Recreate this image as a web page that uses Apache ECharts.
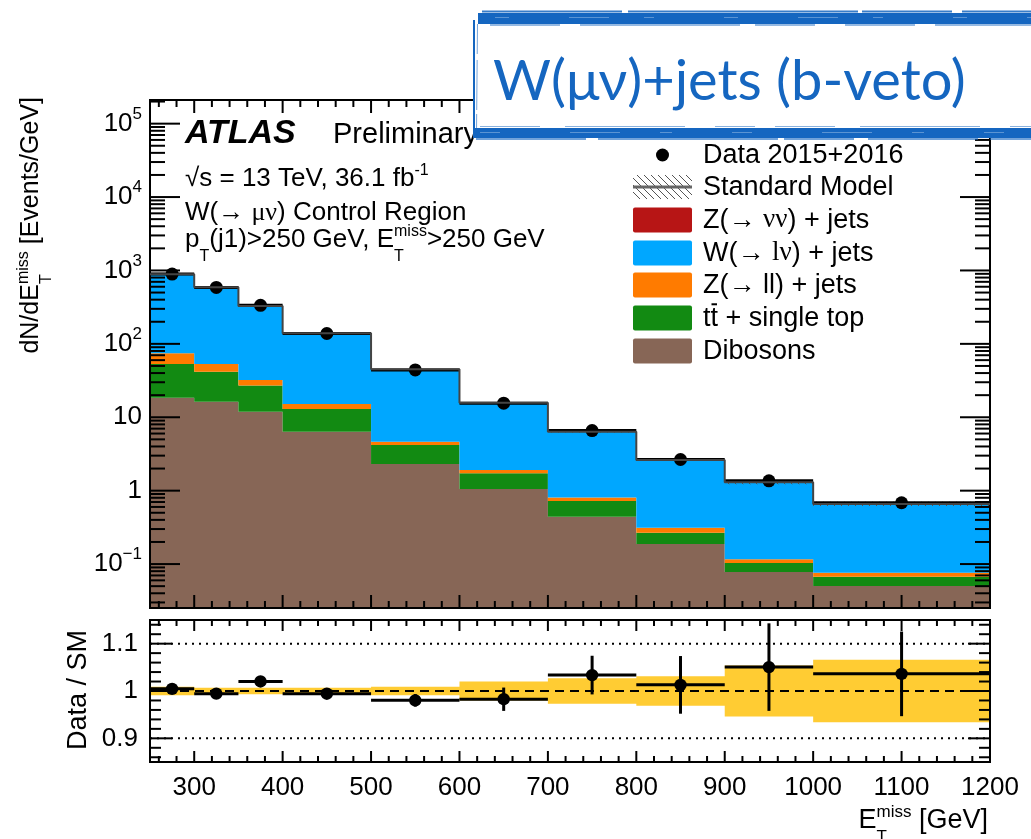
<!DOCTYPE html>
<html>
<head>
<meta charset="utf-8">
<script src="https://cdn.jsdelivr.net/npm/echarts@6/dist/echarts.min.js"></script>
<style>
  html, body { margin: 0; padding: 0; background: #fff; }
  #chart { width: 1031px; height: 839px; }
</style>
</head>
<body>
<div id="chart"></div>
<script>
// ---- binning (GeV) -------------------------------------------------------
const binEdges = [250, 300, 350, 400, 500, 600, 700, 800, 900, 1000, 1200];

// ---- background yields, events / GeV (stacked bottom to top) -------------
const dibosons = [18.5, 16.3, 11.9, 6.36, 2.31, 1.05, 0.442, 0.188, 0.078, 0.0503];
const ttbar    = [34.5, 25.5, 15.1, 6.64, 1.89, 0.68, 0.283, 0.080, 0.025, 0.017];
const zll      = [21.5, 11.2, 5.2, 2.2, 0.45, 0.18, 0.085, 0.045, 0.013, 0.009];
const wlnu     = [813, 537, 296, 124, 40.4, 13.9, 5.55, 2.31, 1.18, 0.583];
const znunu    = [0.5, 0.3, 0.2, 0.1, 0.04, 0.015, 0.006, 0.003, 0.0015, 0.0008];

// relative uncertainty on the total SM prediction
const smRelUnc = [0.009, 0.007, 0.007, 0.007, 0.009, 0.02, 0.027, 0.031, 0.054, 0.066];

// ---- data, events / GeV ---------------------------------------------------
const dataVals = [892, 587, 335, 138.5, 44.2, 15.55, 6.58, 2.66, 1.363, 0.684];
const dataErrs = [4.4, 3.4, 2.6, 1.2, 0.6, 0.39, 0.26, 0.16, 0.12, 0.059];

// ---- axis labels ------------------------------------------------------------
const xTickLabels = [300, 400, 500, 600, 700, 800, 900, 1000, 1100, 1200];
const yDecadeExps = [-1, 0, 1, 2, 3, 4, 5];
const ratioTickLabels = [0.9, 1, 1.1];
const ratioRefLines = [0.9, 1.0, 1.1];

// ---- legend ---------------------------------------------------------------
const processColors = {
  dibosons: '#876656', ttbar: '#128A12', zll: '#FF7B00', wlnu: '#00A7FF', znunu: '#B71515'
};

// ---- layout constants -----------------------------------------------------
const X_MIN = 250, X_MAX = 1200;
const Y_MIN = 0.0252, Y_MAX = 2.1e5;
const R_MIN = 0.85, R_MAX = 1.15;
const SANS = '"Liberation Sans", Arial, Helvetica, sans-serif';
const SERIF = '"Liberation Serif", "DejaVu Serif", serif';
const BAND = '#FFCC33';
const BLUE = '#1566C0';

const nBins = binEdges.length - 1;

// stacked layers: per-bin [x0, x1, lo, hi]
const layers = [
  { vals: dibosons, color: processColors.dibosons },
  { vals: ttbar, color: processColors.ttbar },
  { vals: zll, color: processColors.zll },
  { vals: wlnu, color: processColors.wlnu },
  { vals: znunu, color: processColors.znunu }
];
const cum = new Array(nBins).fill(0);
layers.forEach(layer => {
  layer.items = [];
  for (let i = 0; i < nBins; i++) {
    const lo = cum[i], hi = cum[i] + layer.vals[i];
    layer.items.push([binEdges[i], binEdges[i + 1], lo > 0 ? lo : Y_MIN, hi]);
    cum[i] = hi;
  }
});
const smTotal = cum.slice();

// ---- renderers ------------------------------------------------------------
// one filled step polygon per layer, built from the per-bin items
function stepPolygonRenderer(items, fill) {
  return function (params, api) {
    if (params.dataIndex !== 0) return null;
    const pts = [];
    items.forEach(it => {
      pts.push(api.coord([it[0], it[3]]), api.coord([it[1], it[3]]));
    });
    for (let i = items.length - 1; i >= 0; i--) {
      const it = items[i];
      pts.push(api.coord([it[1], it[2]]), api.coord([it[0], it[2]]));
    }
    return { type: 'polygon', shape: { points: pts }, style: { fill: fill, stroke: null } };
  };
}

// per-bin rectangles (used for the hatched uncertainty band)
function rectRenderer(fill) {
  return function (params, api) {
    const p0 = api.coord([api.value(0), api.value(3)]);
    const p1 = api.coord([api.value(1), api.value(2)]);
    return {
      type: 'rect',
      shape: { x: p0[0], y: p0[1], width: p1[0] - p0[0], height: p1[1] - p0[1] },
      style: { fill: fill, stroke: null }
    };
  };
}

function hatchCanvas() {
  const c = document.createElement('canvas');
  c.width = 7; c.height = 7;
  const g = c.getContext('2d');
  g.strokeStyle = '#555';
  g.lineWidth = 1;
  g.beginPath();
  g.moveTo(-1, -1); g.lineTo(8, 8);
  g.moveTo(-4.5, 2.5); g.lineTo(4.5, 11.5);
  g.moveTo(2.5, -4.5); g.lineTo(11.5, 4.5);
  g.stroke();
  return c;
}
const hatchFill = { image: hatchCanvas(), repeat: 'repeat' };

function pointRenderer(r) {
  return function (params, api) {
    const x0 = api.value(0), x1 = api.value(1), v = api.value(2), e = api.value(3);
    const xc = (x0 + x1) / 2;
    const pL = api.coord([x0, v]), pR = api.coord([x1, v]), pC = api.coord([xc, v]);
    const pT = api.coord([xc, v + e]), pB = api.coord([xc, Math.max(v - e, 1e-9)]);
    return {
      type: 'group',
      children: [
        { type: 'line', shape: { x1: pL[0], y1: pL[1], x2: pR[0], y2: pR[1] }, style: { stroke: '#000', lineWidth: 3 } },
        { type: 'line', shape: { x1: pT[0], y1: pT[1], x2: pB[0], y2: pB[1] }, style: { stroke: '#000', lineWidth: 3 } },
        { type: 'circle', shape: { cx: pC[0], cy: pC[1], r: r }, style: { fill: '#000', stroke: null } }
      ]
    };
  };
}

// axis ticks drawn on all four sides plus the frame, ROOT style
function tickRenderer(yLo, yHi) {
  return function (params, api) {
    const x = api.value(0), y = api.value(1), len = api.value(2), o = api.value(3);
    const st = { stroke: '#000', lineWidth: 2 };
    if (o === 4) {
      const a = api.coord([X_MIN, yHi]), b = api.coord([X_MAX, yLo]);
      return { type: 'rect', shape: { x: a[0], y: a[1], width: b[0] - a[0], height: b[1] - a[1] },
               style: { fill: 'none', stroke: '#000', lineWidth: 2 } };
    }
    const p = api.coord([x, y]);
    let q;
    if (o === 0) q = [p[0] + len, p[1]];
    else if (o === 1) q = [p[0] - len, p[1]];
    else if (o === 2) q = [p[0], p[1] - len];
    else q = [p[0], p[1] + len];
    return { type: 'line', shape: { x1: p[0], y1: p[1], x2: q[0], y2: q[1] }, style: st };
  };
}

function mainTicks() {
  const items = [];
  for (let k = -2; k <= 5; k++) {
    for (let m = 1; m <= 9; m++) {
      const v = m * Math.pow(10, k);
      if (v < Y_MIN || v > Y_MAX) continue;
      const len = m === 1 ? 30 : 15;
      items.push([X_MIN, v, len, 0], [X_MAX, v, len, 1]);
    }
  }
  for (let x = 260; x < X_MAX; x += 20) {
    const len = x % 100 === 0 ? 13 : 7;
    items.push([x, Y_MIN, len, 2], [x, Y_MAX, len, 3]);
  }
  items.push([X_MIN, Y_MAX, 0, 4]);
  return items;
}

function ratioTicks() {
  const items = [];
  for (let i = 43; i <= 57; i++) {
    const v = i * 0.02;
    const len = i % 5 === 0 ? 22 : 11;
    items.push([X_MIN, v, len, 0], [X_MAX, v, len, 1]);
  }
  for (let x = 260; x < X_MAX; x += 20) {
    const len = x % 100 === 0 ? 11 : 6;
    items.push([x, R_MIN, len, 2], [x, R_MAX, len, 3]);
  }
  items.push([X_MIN, R_MAX, 0, 4]);
  return items;
}

// ---- text with sub/superscripts -------------------------------------------
const mctx = document.createElement('canvas').getContext('2d');
function runFont(r) {
  return (r.fontStyle || 'normal') + ' ' + (r.fontWeight || 'normal') + ' ' + r.fontSize + 'px ' + (r.fontFamily || SANS);
}
function runWidth(r) { mctx.font = runFont(r); return mctx.measureText(r.text).width; }
function textEl(r, x, baseY, color, z) {
  return {
    type: 'text', x: x, y: baseY - 0.3465 * r.fontSize, z: z,
    style: {
      text: r.text, fontSize: r.fontSize, fontFamily: r.fontFamily || SANS,
      fontWeight: r.fontWeight || 'normal', fontStyle: r.fontStyle || 'normal',
      fill: color, align: 'left', verticalAlign: 'middle'
    }
  };
}
function mathText(runs, size, opt) {
  const color = opt.color || '#000', z = opt.z || 10;
  const kids = [];
  let x = 0;
  runs.forEach(r => {
    if (typeof r === 'string') r = { t: r };
    if (r.sup !== undefined || r.sub !== undefined) {
      const s = Math.round(size * 0.62);
      let w = 0;
      if (r.sup) { const q = { text: r.sup, fontSize: s }; kids.push(textEl(q, x, -size * 0.45, color, z)); w = Math.max(w, runWidth(q)); }
      if (r.sub) { const q = { text: r.sub, fontSize: s }; kids.push(textEl(q, x, size * 0.5, color, z)); w = Math.max(w, runWidth(q)); }
      x += w;
      return;
    }
    const q = { text: r.t, fontSize: size, fontFamily: r.family, fontWeight: r.weight, fontStyle: r.style };
    kids.push(textEl(q, x, 0, color, z));
    const w = runWidth(q);
    if (r.bar) {
      kids.push({ type: 'line', z: z, shape: { x1: x + 1, y1: -size * 0.86, x2: x + w - 1, y2: -size * 0.86 },
                  style: { stroke: color, lineWidth: 2 } });
    }
    x += w;
  });
  const off = opt.align === 'right' ? -x : opt.align === 'center' ? -x / 2 : 0;
  kids.forEach(k => {
    if (k.type === 'text') k.x += off;
    else { k.shape.x1 += off; k.shape.x2 += off; }
  });
  return { type: 'group', x: opt.x, y: opt.y, rotation: opt.rotation || 0, z: z, children: kids };
}

// ---- legend -----------------------------------------------------------------
const legendX = 633, legendW = 59, legendH = 25, legendTextX = 703;
const legendRows = [155, 187, 220, 253, 285, 318, 351];
const legendGraphics = [];
legendGraphics.push({ type: 'circle', z: 10, shape: { cx: legendX + legendW / 2, cy: legendRows[0], r: 6.5 }, style: { fill: '#000' } });
legendGraphics.push({ type: 'rect', z: 10, shape: { x: legendX, y: legendRows[1] - 12, width: legendW, height: 24 }, style: { fill: hatchFill } });
legendGraphics.push({ type: 'line', z: 10, shape: { x1: legendX, y1: legendRows[1], x2: legendX + legendW, y2: legendRows[1] }, style: { stroke: '#666', lineWidth: 3 } });
[processColors.znunu, processColors.wlnu, processColors.zll, processColors.ttbar, processColors.dibosons].forEach((c, i) => {
  legendGraphics.push({ type: 'rect', z: 10, shape: { x: legendX, y: legendRows[i + 2] - legendH / 2, width: legendW, height: legendH, r: 2 }, style: { fill: c } });
});
const legendTexts = [
  ['Data 2015+2016'],
  ['Standard Model'],
  ['Z(→ ', { t: 'νν', family: SERIF }, ') + jets'],
  ['W(→ ', { t: 'lν', family: SERIF }, ') + jets'],
  ['Z(→ ll) + jets'],
  [{ t: 't' }, { t: 't', bar: true }, ' + single top'],
  ['Dibosons']
];
legendTexts.forEach((runs, i) => {
  legendGraphics.push(mathText(runs, 27, { x: legendTextX, y: legendRows[i] + 9.5 }));
});

// ---- banner -------------------------------------------------------------------
const bannerText = 'W(μν)+jets (b-veto)';
const bannerFamily = 'Lato, "Open Sans", sans-serif';
const bannerSize = Math.round(64 * 475 / runWidth({ text: bannerText, fontSize: 64, fontFamily: bannerFamily }));
const banner = [
  { type: 'rect', z: 50, shape: { x: 474, y: 15, width: 600, height: 120 }, style: { fill: '#fff' } },
  // top brush stroke
  { type: 'rect', z: 51, shape: { x: 478, y: 13, width: 600, height: 11 }, style: { fill: BLUE } },
  { type: 'line', z: 51, shape: { x1: 482, y1: 11.5, x2: 1040, y2: 11.5 }, style: { stroke: BLUE, lineWidth: 2, opacity: 0.85, lineDash: [140, 6, 230, 4, 90, 10] } },
  { type: 'line', z: 51, shape: { x1: 490, y1: 25, x2: 1040, y2: 25 }, style: { stroke: BLUE, lineWidth: 1.5, opacity: 0.6, lineDash: [70, 20, 160, 15, 60, 30] } },
  { type: 'line', z: 52, shape: { x1: 495, y1: 17.5, x2: 1040, y2: 17.5 }, style: { stroke: '#fff', lineWidth: 1, opacity: 0.3, lineDash: [14, 60, 40, 35, 10, 70] } },
  // bottom brush stroke
  { type: 'rect', z: 51, shape: { x: 473, y: 128, width: 600, height: 10 }, style: { fill: BLUE } },
  { type: 'line', z: 51, shape: { x1: 476, y1: 139, x2: 1040, y2: 139 }, style: { stroke: BLUE, lineWidth: 1.5, opacity: 0.8, lineDash: [110, 12, 180, 6, 70, 14] } },
  { type: 'line', z: 51, shape: { x1: 480, y1: 126.5, x2: 1040, y2: 126.5 }, style: { stroke: BLUE, lineWidth: 1, opacity: 0.5, lineDash: [60, 25, 120, 30, 40, 20] } },
  { type: 'line', z: 52, shape: { x1: 480, y1: 132.5, x2: 1040, y2: 132.5 }, style: { stroke: '#fff', lineWidth: 1, opacity: 0.3, lineDash: [20, 70, 50, 40, 12, 60] } },
  // left edge
  { type: 'line', z: 51, shape: { x1: 474, y1: 20, x2: 474, y2: 136 }, style: { stroke: BLUE, lineWidth: 2 } },
  { type: 'line', z: 51, shape: { x1: 477.5, y1: 24, x2: 476.5, y2: 132 }, style: { stroke: BLUE, lineWidth: 1, opacity: 0.6, lineDash: [30, 6, 50, 4] } },
  {
    type: 'text', z: 53, x: 493, y: 103 - 0.38 * bannerSize,
    style: { text: bannerText, fontSize: bannerSize, fontFamily: bannerFamily, fill: BLUE, align: 'left', verticalAlign: 'middle' }
  }
];

// ---- titles and labels ----------------------------------------------------
const titles = [
  mathText(['dN/dE', { sup: 'miss', sub: 'T' }, ' [Events/GeV]'], 25, { x: 40, y: 97, align: 'right', rotation: Math.PI / 2 }),
  mathText(['Data / SM'], 27, { x: 88, y: 690, align: 'center', rotation: Math.PI / 2 }),
  mathText(['E', { sup: 'miss', sub: 'T' }, ' [GeV]'], 27, { x: 988, y: 830, align: 'right' }),
  mathText([{ t: 'ATLAS', weight: 'bold', style: 'italic' }], 34, { x: 185, y: 145 }),
  mathText(['Preliminary'], 29, { x: 333, y: 145 }),
  mathText(['√s = 13 TeV, 36.1 fb', { sup: '-1' }], 26, { x: 185, y: 188 }),
  mathText(['W(→ ', { t: 'μν', family: SERIF }, ') Control Region'], 26, { x: 185, y: 222 }),
  mathText(['p', { sub: 'T' }, '(j1)>250 GeV, E', { sup: 'miss', sub: 'T' }, '>250 GeV'], 26, { x: 185, y: 249 })
];

// ---- chart -----------------------------------------------------------------
const chart = echarts.init(document.getElementById('chart'), null, { renderer: 'canvas' });

const series = [];
layers.forEach(layer => {
  series.push({
    type: 'custom', xAxisIndex: 0, yAxisIndex: 0, silent: true,
    renderItem: stepPolygonRenderer(layer.items, layer.color), encode: { x: [0, 1], y: [2, 3] }, data: layer.items
  });
});
series.push({
  type: 'custom', xAxisIndex: 0, yAxisIndex: 0, silent: true,
  renderItem: rectRenderer(hatchFill), encode: { x: [0, 1], y: [2, 3] },
  data: smTotal.map((s, i) => [binEdges[i], binEdges[i + 1], s * (1 - smRelUnc[i]), s * (1 + smRelUnc[i])])
});
series.push({
  type: 'line', xAxisIndex: 0, yAxisIndex: 0, silent: true, step: 'end', symbol: 'none',
  lineStyle: { color: '#444', width: 2 },
  data: binEdges.map((x, i) => [x, smTotal[Math.min(i, nBins - 1)]])
});
series.push({
  type: 'custom', xAxisIndex: 0, yAxisIndex: 0, silent: true,
  renderItem: pointRenderer(6.5), encode: { x: [0, 1], y: 2 },
  data: dataVals.map((v, i) => [binEdges[i], binEdges[i + 1], v, dataErrs[i]])
});
series.push({
  type: 'custom', xAxisIndex: 0, yAxisIndex: 0, silent: true,
  renderItem: tickRenderer(Y_MIN, Y_MAX), encode: { x: 0, y: 1 }, data: mainTicks()
});

// ratio panel
const bandItems = smRelUnc.map((u, i) => [binEdges[i], binEdges[i + 1], 1 - u, 1 + u]);
series.push({
  type: 'custom', xAxisIndex: 1, yAxisIndex: 1, silent: true,
  renderItem: stepPolygonRenderer(bandItems, BAND), encode: { x: [0, 1], y: [2, 3] }, data: bandItems
});
series.push({
  type: 'custom', xAxisIndex: 1, yAxisIndex: 1, silent: true,
  encode: { x: 0, y: 1 },
  renderItem: function (params, api) {
    const y = api.value(1);
    const a = api.coord([X_MIN, y]), b = api.coord([X_MAX, y]);
    const dash = Math.abs(y - 1) < 1e-9 ? [9, 6] : [2, 5];
    return { type: 'line', shape: { x1: a[0], y1: a[1], x2: b[0], y2: b[1] }, style: { stroke: '#000', lineWidth: 2, lineDash: dash } };
  },
  data: ratioRefLines.map(y => [X_MIN, y])
});
series.push({
  type: 'custom', xAxisIndex: 1, yAxisIndex: 1, silent: true,
  renderItem: pointRenderer(6.2), encode: { x: [0, 1], y: 2 },
  data: dataVals.map((v, i) => [binEdges[i], binEdges[i + 1], v / smTotal[i], dataErrs[i] / smTotal[i]])
});
series.push({
  type: 'custom', xAxisIndex: 1, yAxisIndex: 1, silent: true,
  renderItem: tickRenderer(R_MIN, R_MAX), encode: { x: 0, y: 1 }, data: ratioTicks()
});

const hidden = { show: false };
const option = {
  animation: false,
  backgroundColor: '#fff',
  grid: [
    { left: 150, top: 100, width: 840, height: 508 },
    { left: 150, top: 620, width: 840, height: 142 }
  ],
  xAxis: [
    { gridIndex: 0, type: 'value', min: X_MIN, max: X_MAX, axisLine: hidden, axisTick: hidden, axisLabel: hidden, splitLine: hidden },
    {
      gridIndex: 1, type: 'value', min: X_MIN, max: X_MAX, interval: 50,
      axisLine: hidden, axisTick: hidden, splitLine: hidden,
      axisLabel: {
        show: true, interval: 0, margin: 13, fontSize: 26, fontFamily: SANS, color: '#000', showMaxLabel: true,
        formatter: v => xTickLabels.indexOf(Math.round(v)) >= 0 ? String(Math.round(v)) : ''
      }
    }
  ],
  yAxis: [
    {
      gridIndex: 0, type: 'log', logBase: 10, min: Y_MIN, max: Y_MAX,
      axisLine: hidden, axisTick: hidden, splitLine: hidden,
      axisLabel: {
        show: true, margin: 8, fontSize: 26, fontFamily: SANS, color: '#000',
        showMinLabel: false, showMaxLabel: false,
        formatter: v => {
          const l = Math.log10(v), e = Math.round(l);
          if (Math.abs(l - e) > 1e-6 || yDecadeExps.indexOf(e) < 0) return '';
          if (e === 0) return '1';
          if (e === 1) return '10';
          return '{b|10}{s|' + (e < 0 ? '−' + (-e) : e) + '}';
        },
        rich: {
          b: { fontSize: 26, fontFamily: SANS, color: '#000', lineHeight: 36 },
          s: { fontSize: 17, fontFamily: SANS, color: '#000', lineHeight: 17, verticalAlign: 'top' }
        }
      }
    },
    {
      gridIndex: 1, type: 'value', min: R_MIN, max: R_MAX, interval: 0.05,
      axisLine: hidden, axisTick: hidden, splitLine: hidden,
      axisLabel: {
        show: true, margin: 12, fontSize: 26, fontFamily: SANS, color: '#000',
        formatter: v => {
          const r = Math.round(v * 100) / 100;
          return ratioTickLabels.indexOf(r) >= 0 ? String(r) : '';
        }
      }
    }
  ],
  series: series,
  graphic: { elements: titles.concat(legendGraphics, banner) }
};
chart.setOption(option);
</script>
</body>
</html>
